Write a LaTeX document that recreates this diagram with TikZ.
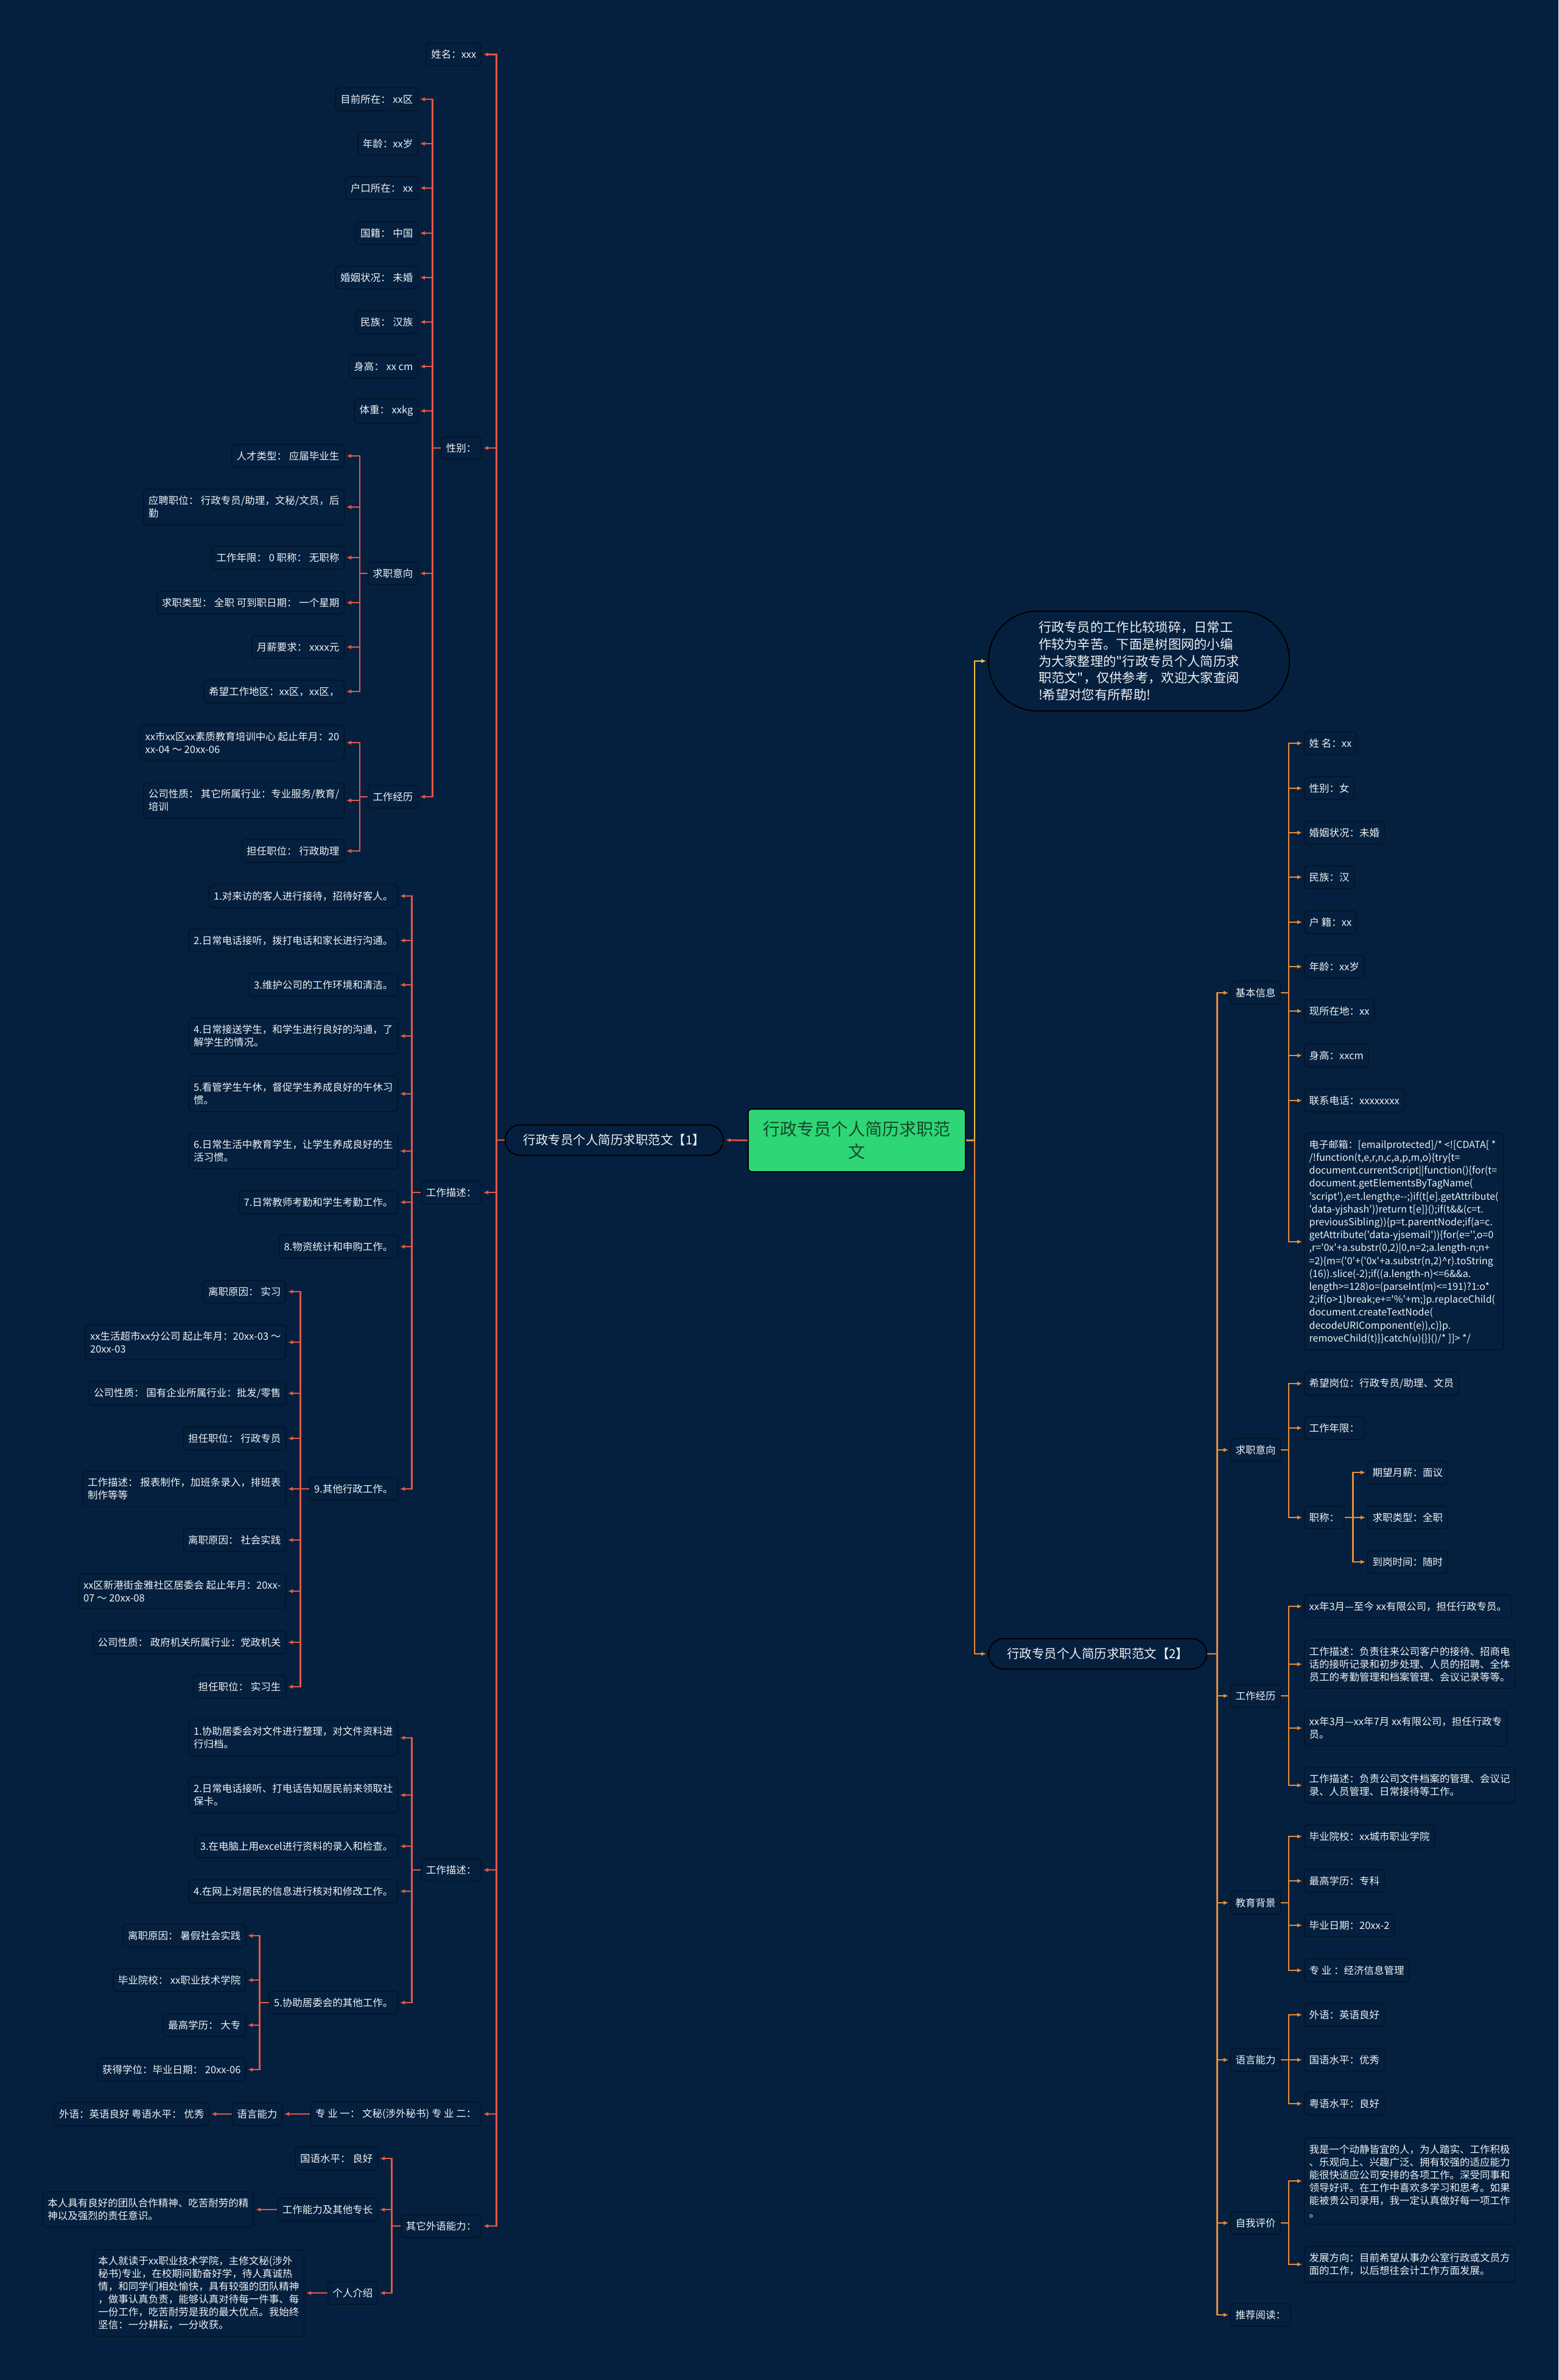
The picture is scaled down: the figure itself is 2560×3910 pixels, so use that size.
\documentclass[tikz,border=0pt]{standalone}
\usepackage{fontspec}
\setmainfont{Noto Sans CJK SC}[Ligatures=TeXOff]
\usetikzlibrary{arrows.meta}
\definecolor{bgnavy}{RGB}{4,32,62}
\definecolor{boxline}{RGB}{6,16,32}
\definecolor{linered}{RGB}{226,88,72}
\definecolor{lineorange}{RGB}{232,140,58}
\definecolor{lineyellow}{RGB}{240,198,60}
\definecolor{rootgreen}{RGB}{46,214,118}
\definecolor{rootink}{RGB}{22,72,42}
\definecolor{textwhite}{RGB}{240,242,245}

\begin{document}
\begin{tikzpicture}[x=1pt,y=-1pt,>=Latex,
  box/.style={draw=boxline,line width=1.2pt,fill=bgnavy,rounded corners=6pt,text=textwhite,
    font=\fontsize{16.5}{21}\selectfont,inner xsep=8pt,inner ysep=11pt,minimum height=37pt,align=left},
  lbox/.style={box,anchor=east},
  rbox/.style={box,anchor=west},
  pill/.style={box,draw=black,line width=2pt,font=\fontsize{20.5}{26}\selectfont,rounded corners=25pt,
    minimum height=50pt,inner xsep=30pt,inner ysep=6pt},
  redarr/.style={draw=linered,line width=2.5pt,-{Latex[length=8pt,width=7pt]},shorten >=3pt},
  orarr/.style={redarr,draw=lineorange},
  yelarr/.style={redarr,draw=lineyellow}]
\fill[bgnavy] (0,0) rectangle (2560,3910);
\useasboundingbox (0,0) rectangle (2560,3910);

\node[draw=black,line width=2pt,fill=rootgreen,rounded corners=6pt,minimum width=357pt,minimum height=103pt,
  text=rootink,font=\fontsize{28}{36.7}\selectfont,align=center] (root) at (1407.5,1873.5) {行政专员个人简历求职范\\文};
\node[pill,anchor=east] (one) at (1189,1873) {行政专员个人简历求职范文【1】};
\node[pill,anchor=west] (two) at (1623,2717) {行政专员个人简历求职范文【2】};
\node[box,draw=black,line width=2pt,anchor=west,font=\fontsize{21.3}{27.7}\selectfont,text width=330pt,
  minimum width=494pt,minimum height=164pt,rounded corners=80pt] (intro) at (1623,1086)
  {行政专员的工作比较琐碎，日常工\\作较为辛苦。下面是树图网的小编\\为大家整理的"行政专员个人简历求\\职范文"，仅供参考，欢迎大家查阅\\!希望对您有所帮助!};

\node[lbox] (nameL) at (791,89.5) {姓名：xxx};
\node[lbox] (sexL) at (791,736) {性别：};
\node[lbox] (wdA) at (791,1959) {工作描述：};
\node[lbox] (wdB) at (791,3072) {工作描述：};
\node[lbox] (major) at (791,3473) {专 业 一： 文秘(涉外秘书) 专 业 二：};
\node[lbox] (olang) at (791,3657) {其它外语能力：};

\node[lbox] (loc) at (687,163) {目前所在： xx区};
\node[lbox] (age) at (687,236) {年龄：xx岁};
\node[lbox] (hukou) at (687,309) {户口所在： xx};
\node[lbox] (nat) at (687,383) {国籍： 中国};
\node[lbox] (mar) at (687,456) {婚姻状况： 未婚};
\node[lbox] (eth) at (687,529) {民族： 汉族};
\node[lbox] (hgt) at (687,602) {身高： xx cm};
\node[lbox] (wgt) at (687,675) {体重： xxkg};
\node[lbox] (intentL) at (687,942) {求职意向};
\node[lbox] (expL) at (687,1309) {工作经历};

\node[lbox] (iA) at (566,749) {人才类型： 应届毕业生};
\node[lbox] (iB) at (566,833) {应聘职位： 行政专员/助理，文秘/文员，后\\勤};
\node[lbox] (iC) at (566,916) {工作年限： 0 职称： 无职称};
\node[lbox] (iD) at (566,990) {求职类型： 全职 可到职日期： 一个星期};
\node[lbox] (iE) at (566,1063) {月薪要求： xxxx元};
\node[lbox] (iF) at (566,1136) {希望工作地区：xx区，xx区，};
\node[lbox] (eA) at (566,1220) {xx市xx区xx素质教育培训中心 起止年月：20\\xx-04 ～ 20xx-06};
\node[lbox] (eB) at (566,1315) {公司性质： 其它所属行业：专业服务/教育/\\培训};
\node[lbox] (eC) at (566,1398) {担任职位： 行政助理};

\node[lbox] (wA) at (654,1472) {1.对来访的客人进行接待，招待好客人。};
\node[lbox] (wB) at (654,1545) {2.日常电话接听，拨打电话和家长进行沟通。};
\node[lbox] (wC) at (654,1618) {3.维护公司的工作环境和清洁。};
\node[lbox] (wD) at (654,1702) {4.日常接送学生，和学生进行良好的沟通，了\\解学生的情况。};
\node[lbox] (wE) at (654,1797) {5.看管学生午休，督促学生养成良好的午休习\\惯。};
\node[lbox] (wF) at (654,1891) {6.日常生活中教育学生，让学生养成良好的生\\活习惯。};
\node[lbox] (wG) at (654,1975) {7.日常教师考勤和学生考勤工作。};
\node[lbox] (wH) at (654,2048) {8.物资统计和申购工作。};
\node[lbox] (wI) at (654,2446) {9.其他行政工作。};

\node[lbox] (oA) at (470,2122) {离职原因： 实习};
\node[lbox] (oB) at (470,2205) {xx生活超市xx分公司 起止年月：20xx-03 ～\\20xx-03};
\node[lbox] (oC) at (470,2289) {公司性质： 国有企业所属行业：批发/零售};
\node[lbox] (oD) at (470,2363) {担任职位： 行政专员};
\node[lbox] (oE) at (470,2446) {工作描述： 报表制作，加班条录入，排班表\\制作等等};
\node[lbox] (oF) at (470,2530) {离职原因： 社会实践};
\node[lbox] (oG) at (470,2614) {xx区新港街金雅社区居委会 起止年月：20xx-\\07 ～ 20xx-08};
\node[lbox] (oH) at (470,2698) {公司性质： 政府机关所属行业：党政机关};
\node[lbox] (oI) at (470,2771) {担任职位： 实习生};

\node[lbox] (vA) at (654,2855) {1.协助居委会对文件进行整理，对文件资料进\\行归档。};
\node[lbox] (vB) at (654,2949) {2.日常电话接听、打电话告知居民前来领取社\\保卡。};
\node[lbox] (vC) at (654,3033) {3.在电脑上用excel进行资料的录入和检查。};
\node[lbox] (vD) at (654,3107) {4.在网上对居民的信息进行核对和修改工作。};
\node[lbox] (vE) at (654,3290) {5.协助居委会的其他工作。};

\node[lbox] (sA) at (404,3180) {离职原因： 暑假社会实践};
\node[lbox] (sB) at (404,3253) {毕业院校： xx职业技术学院};
\node[lbox] (sC) at (404,3327) {最高学历： 大专};
\node[lbox] (sD) at (404,3400) {获得学位：毕业日期： 20xx-06};

\node[lbox] (langL) at (464,3473) {语言能力};
\node[lbox] (foreignL) at (344,3473) {外语：英语良好 粤语水平： 优秀};
\node[lbox] (gA) at (621,3546) {国语水平： 良好};
\node[lbox] (gB) at (621,3630) {工作能力及其他专长};
\node[lbox] (gBt) at (417,3630) {本人具有良好的团队合作精神、吃苦耐劳的精\\神以及强烈的责任意识。};
\node[lbox] (gC) at (621,3767) {个人介绍};
\node[lbox] (gCt) at (500,3767) {本人就读于xx职业技术学院，主修文秘(涉外\\秘书)专业，在校期间勤奋好学，待人真诚热\\情，和同学们相处愉快，具有较强的团队精神\\，做事认真负责，能够认真对待每一件事、每\\一份工作，吃苦耐劳是我的最大优点。我始终\\坚信：一分耕耘，一分收获。};

\node[rbox] (basic) at (2021,1631) {基本信息};
\node[rbox] (intentR) at (2021,2382) {求职意向};
\node[rbox] (expR) at (2021,2786) {工作经历};
\node[rbox] (edu) at (2021,3126) {教育背景};
\node[rbox] (langR) at (2021,3384) {语言能力};
\node[rbox] (self) at (2021,3652) {自我评价};
\node[rbox] (more) at (2021,3803) {推荐阅读：};

\node[rbox] (bA) at (2142,1221) {姓 名：xx};
\node[rbox] (bB) at (2142,1295) {性别：女};
\node[rbox] (bC) at (2142,1368) {婚姻状况：未婚};
\node[rbox] (bD) at (2142,1441) {民族：汉};
\node[rbox] (bE) at (2142,1515) {户 籍：xx};
\node[rbox] (bF) at (2142,1588) {年龄：xx岁};
\node[rbox] (bG) at (2142,1661) {现所在地：xx};
\node[rbox] (bH) at (2142,1734) {身高：xxcm};
\node[rbox] (bI) at (2142,1808) {联系电话：xxxxxxxx};
\node[rbox,font=\fontsize{16}{21.2}\selectfont] (mail) at (2142,2040) {电子邮箱：[emailprotected]/* <![CDATA[ *\\/!function(t,e,r,n,c,a,p,m,o)\{try\{t=\\document.currentScript||function()\{for(t=\\document.getElementsByTagName(\\'script'),e=t.length;e--;)if(t[e].getAttribute(\\'data-yjshash'))return t[e]\}();if(t\&\&(c=t.\\previousSibling))\{p=t.parentNode;if(a=c.\\getAttribute('data-yjsemail'))\{for(e='',o=0\\,r='0x'+a.substr(0,2)|0,n=2;a.length-n;n+\\=2)\{m=('0'+('0x'+a.substr(n,2)\textasciicircum r).toString\\(16)).slice(-2);if((a.length-n)<=6\&\&a.\\length>=128)o=(parseInt(m)<=191)?1:o*\\2;if(o>1)break;e+='\%'+m;\}p.replaceChild(\\document.createTextNode(\\decodeURIComponent(e)),c)\}p.\\removeChild(t)\}\}catch(u)\{\}\}()/* ]]> */};

\node[rbox] (rA) at (2142,2273) {希望岗位：行政专员/助理、文员};
\node[rbox] (rB) at (2142,2346) {工作年限：};
\node[rbox] (rC) at (2142,2493) {职称：};
\node[rbox] (pA) at (2246,2419) {期望月薪：面议};
\node[rbox] (pB) at (2246,2493) {求职类型：全职};
\node[rbox] (pC) at (2246,2566) {到岗时间：随时};

\node[rbox] (xA) at (2142,2639) {xx年3月—至今 xx有限公司，担任行政专员。};
\node[rbox] (xB) at (2142,2734) {工作描述：负责往来公司客户的接待、招商电\\话的接听记录和初步处理、人员的招聘、全体\\员工的考勤管理和档案管理、会议记录等等。};
\node[rbox] (xC) at (2142,2839) {xx年3月—xx年7月 xx有限公司，担任行政专\\员。};
\node[rbox] (xD) at (2142,2933) {工作描述：负责公司文件档案的管理、会议记\\录、人员管理、日常接待等工作。};

\node[rbox] (dA) at (2142,3017) {毕业院校：xx城市职业学院};
\node[rbox] (dB) at (2142,3090) {最高学历：专科};
\node[rbox] (dC) at (2142,3163) {毕业日期：20xx-2};
\node[rbox] (dD) at (2142,3237) {专 业 ：经济信息管理};

\node[rbox] (lA) at (2142,3310) {外语：英语良好};
\node[rbox] (lB) at (2142,3384) {国语水平：优秀};
\node[rbox] (lC) at (2142,3456) {粤语水平：良好};

\node[rbox] (mA) at (2142,3583) {我是一个动静皆宜的人，为人踏实、工作积极\\、乐观向上、兴趣广泛、拥有较强的适应能力\\能很快适应公司安排的各项工作。深受同事和\\领导好评。在工作中喜欢多学习和思考。如果\\能被贵公司录用，我一定认真做好每一项工作\\。};
\node[rbox] (mB) at (2142,3720) {发展方向：目前希望从事办公室行政或文员方\\面的工作，以后想往会计工作方面发展。};

\draw[redarr] (root.west) -- (one.east);
\draw[yelarr] (root.east) -- ++(14,0) |- (intro.west);
\draw[orarr] (root.east) -- ++(14,0) |- (two.west);

\draw[redarr] (one.west) -- ++(-13,0) |- (nameL.east);
\draw[redarr] (one.west) -- ++(-13,0) |- (sexL.east);
\draw[redarr] (one.west) -- ++(-13,0) |- (wdA.east);
\draw[redarr] (one.west) -- ++(-13,0) |- (wdB.east);
\draw[redarr] (one.west) -- ++(-13,0) |- (major.east);
\draw[redarr] (one.west) -- ++(-13,0) |- (olang.east);

\draw[redarr] (sexL.west) -- ++(-14,0) |- (loc.east);
\draw[redarr] (sexL.west) -- ++(-14,0) |- (age.east);
\draw[redarr] (sexL.west) -- ++(-14,0) |- (hukou.east);
\draw[redarr] (sexL.west) -- ++(-14,0) |- (nat.east);
\draw[redarr] (sexL.west) -- ++(-14,0) |- (mar.east);
\draw[redarr] (sexL.west) -- ++(-14,0) |- (eth.east);
\draw[redarr] (sexL.west) -- ++(-14,0) |- (hgt.east);
\draw[redarr] (sexL.west) -- ++(-14,0) |- (wgt.east);
\draw[redarr] (sexL.west) -- ++(-14,0) |- (intentL.east);
\draw[redarr] (sexL.west) -- ++(-14,0) |- (expL.east);

\draw[redarr] (intentL.west) -- ++(-13,0) |- (iA.east);
\draw[redarr] (intentL.west) -- ++(-13,0) |- (iB.east);
\draw[redarr] (intentL.west) -- ++(-13,0) |- (iC.east);
\draw[redarr] (intentL.west) -- ++(-13,0) |- (iD.east);
\draw[redarr] (intentL.west) -- ++(-13,0) |- (iE.east);
\draw[redarr] (intentL.west) -- ++(-13,0) |- (iF.east);
\draw[redarr] (expL.west) -- ++(-13,0) |- (eA.east);
\draw[redarr] (expL.west) -- ++(-13,0) |- (eB.east);
\draw[redarr] (expL.west) -- ++(-13,0) |- (eC.east);

\draw[redarr] (wdA.west) -- ++(-15,0) |- (wA.east);
\draw[redarr] (wdA.west) -- ++(-15,0) |- (wB.east);
\draw[redarr] (wdA.west) -- ++(-15,0) |- (wC.east);
\draw[redarr] (wdA.west) -- ++(-15,0) |- (wD.east);
\draw[redarr] (wdA.west) -- ++(-15,0) |- (wE.east);
\draw[redarr] (wdA.west) -- ++(-15,0) |- (wF.east);
\draw[redarr] (wdA.west) -- ++(-15,0) |- (wG.east);
\draw[redarr] (wdA.west) -- ++(-15,0) |- (wH.east);
\draw[redarr] (wdA.west) -- ++(-15,0) |- (wI.east);

\draw[redarr] (wI.west) -- ++(-14,0) |- (oA.east);
\draw[redarr] (wI.west) -- ++(-14,0) |- (oB.east);
\draw[redarr] (wI.west) -- ++(-14,0) |- (oC.east);
\draw[redarr] (wI.west) -- ++(-14,0) |- (oD.east);
\draw[redarr] (wI.west) -- ++(-14,0) |- (oE.east);
\draw[redarr] (wI.west) -- ++(-14,0) |- (oF.east);
\draw[redarr] (wI.west) -- ++(-14,0) |- (oG.east);
\draw[redarr] (wI.west) -- ++(-14,0) |- (oH.east);
\draw[redarr] (wI.west) -- ++(-14,0) |- (oI.east);

\draw[redarr] (wdB.west) -- ++(-15,0) |- (vA.east);
\draw[redarr] (wdB.west) -- ++(-15,0) |- (vB.east);
\draw[redarr] (wdB.west) -- ++(-15,0) |- (vC.east);
\draw[redarr] (wdB.west) -- ++(-15,0) |- (vD.east);
\draw[redarr] (wdB.west) -- ++(-15,0) |- (vE.east);

\draw[redarr] (vE.west) -- ++(-15,0) |- (sA.east);
\draw[redarr] (vE.west) -- ++(-15,0) |- (sB.east);
\draw[redarr] (vE.west) -- ++(-15,0) |- (sC.east);
\draw[redarr] (vE.west) -- ++(-15,0) |- (sD.east);

\draw[redarr] (major.west) -- (langL.east);
\draw[redarr] (langL.west) -- (foreignL.east);
\draw[redarr] (olang.west) -- ++(-15,0) |- (gA.east);
\draw[redarr] (olang.west) -- ++(-15,0) |- (gB.east);
\draw[redarr] (olang.west) -- ++(-15,0) |- (gC.east);
\draw[redarr] (gB.west) -- (gBt.east);
\draw[redarr] (gC.west) -- (gCt.east);

\draw[orarr] (two.east) -- ++(16,0) |- (basic.west);
\draw[orarr] (two.east) -- ++(16,0) |- (intentR.west);
\draw[orarr] (two.east) -- ++(16,0) |- (expR.west);
\draw[orarr] (two.east) -- ++(16,0) |- (edu.west);
\draw[orarr] (two.east) -- ++(16,0) |- (langR.west);
\draw[orarr] (two.east) -- ++(16,0) |- (self.west);
\draw[orarr] (two.east) -- ++(16,0) |- (more.west);

\draw[orarr] (basic.east) -- ++(13,0) |- (bA.west);
\draw[orarr] (basic.east) -- ++(13,0) |- (bB.west);
\draw[orarr] (basic.east) -- ++(13,0) |- (bC.west);
\draw[orarr] (basic.east) -- ++(13,0) |- (bD.west);
\draw[orarr] (basic.east) -- ++(13,0) |- (bE.west);
\draw[orarr] (basic.east) -- ++(13,0) |- (bF.west);
\draw[orarr] (basic.east) -- ++(13,0) |- (bG.west);
\draw[orarr] (basic.east) -- ++(13,0) |- (bH.west);
\draw[orarr] (basic.east) -- ++(13,0) |- (bI.west);
\draw[orarr] (basic.east) -- ++(13,0) |- (mail.west);

\draw[orarr] (intentR.east) -- ++(13,0) |- (rA.west);
\draw[orarr] (intentR.east) -- ++(13,0) |- (rB.west);
\draw[orarr] (intentR.east) -- ++(13,0) |- (rC.west);
\draw[orarr] (rC.east) -- ++(14,0) |- (pA.west);
\draw[orarr] (rC.east) -- ++(14,0) |- (pB.west);
\draw[orarr] (rC.east) -- ++(14,0) |- (pC.west);

\draw[orarr] (expR.east) -- ++(13,0) |- (xA.west);
\draw[orarr] (expR.east) -- ++(13,0) |- (xB.west);
\draw[orarr] (expR.east) -- ++(13,0) |- (xC.west);
\draw[orarr] (expR.east) -- ++(13,0) |- (xD.west);

\draw[orarr] (edu.east) -- ++(13,0) |- (dA.west);
\draw[orarr] (edu.east) -- ++(13,0) |- (dB.west);
\draw[orarr] (edu.east) -- ++(13,0) |- (dC.west);
\draw[orarr] (edu.east) -- ++(13,0) |- (dD.west);

\draw[orarr] (langR.east) -- ++(13,0) |- (lA.west);
\draw[orarr] (langR.east) -- ++(13,0) |- (lB.west);
\draw[orarr] (langR.east) -- ++(13,0) |- (lC.west);

\draw[orarr] (self.east) -- ++(13,0) |- (mA.west);
\draw[orarr] (self.east) -- ++(13,0) |- (mB.west);
\end{tikzpicture}
\end{document}
